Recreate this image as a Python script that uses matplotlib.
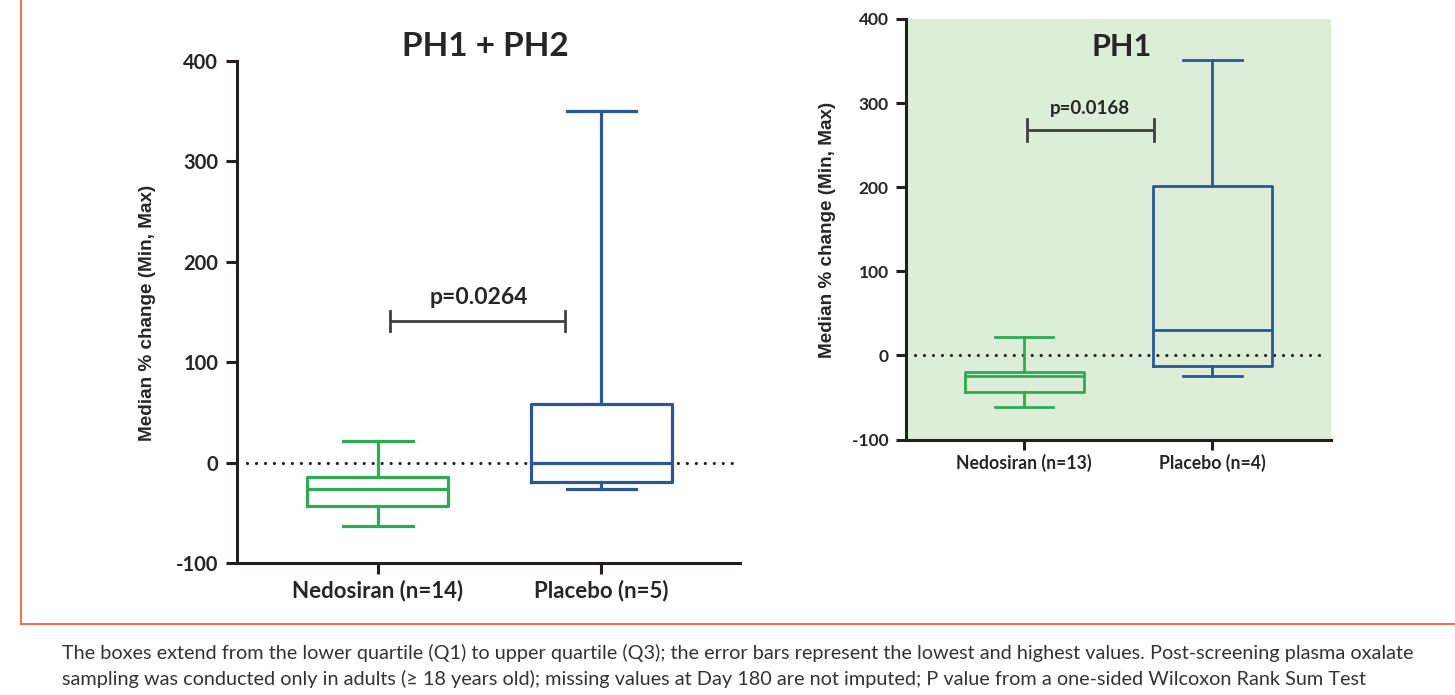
import matplotlib
matplotlib.use("Agg")
import matplotlib.pyplot as plt
from matplotlib.lines import Line2D

# ---------------- data ----------------
categories_all = ["Nedosiran (n=14)", "Placebo (n=5)"]
min_all = [-63, -26]
q1_all = [-43, -19]
med_all = [-26, 0]
q3_all = [-14, 58]
max_all = [22, 350]
p_all = "p=0.0264"
p_all_y = 141

categories_ph1 = ["Nedosiran (n=13)", "Placebo (n=4)"]
min_ph1 = [-61, -25]
q1_ph1 = [-43, -13]
med_ph1 = [-25, 30]
q3_ph1 = [-20, 201]
max_ph1 = [22, 351]
p_ph1 = "p=0.0168"
p_ph1_y = 268

yticks = [-100, 0, 100, 200, 300, 400]
ylabel = "Median % change (Min, Max)"
caption1 = ("The boxes extend from the lower quartile (Q1) to upper quartile (Q3); the error bars "
            "represent the lowest and highest values. Post-screening plasma oxalate")
caption2 = ("sampling was conducted only in adults (\u2265 18 years old); missing values at Day 180 "
            "are not imputed; P value from a one-sided Wilcoxon Rank Sum Test")

GREEN = "#2EAA52"
BLUE = "#2A5796"
DARK = "#231F20"
TEXT = "#262626"
BG = "#DCEDD8"
ORANGE = "#F07048"

fig = plt.figure(figsize=(14.55, 6.95), dpi=100)

def stats(mins, q1s, meds, q3s, maxs):
    return [dict(whislo=a, q1=b, med=c, q3=d, whishi=e, fliers=[])
            for a, b, c, d, e in zip(mins, q1s, meds, q3s, maxs)]

def panel(ax, cats, st, lw, tick_fs, tick_len, xlab_fs, xpad, xlim):
    colors = [GREEN, BLUE]
    for i, (s, c) in enumerate(zip(st, colors)):
        ax.bxp([s], positions=[i + 1], widths=0.63, capwidths=0.31, showfliers=False,
               boxprops=dict(color=c, linewidth=lw),
               medianprops=dict(color=c, linewidth=lw),
               whiskerprops=dict(color=c, linewidth=lw),
               capprops=dict(color=c, linewidth=lw), zorder=3)
    ax.set_xlim(*xlim)
    ax.set_ylim(-100, 400)
    ax.set_yticks(yticks)
    ax.set_yticklabels([str(t) for t in yticks], fontfamily="Lato", fontweight="bold",
                       fontsize=tick_fs, color=TEXT)
    ax.set_xticks([1, 2])
    ax.set_xticklabels(cats, fontfamily="Lato", fontweight="bold", fontsize=xlab_fs, color=TEXT)
    for sp in ["top", "right"]:
        ax.spines[sp].set_visible(False)
    for sp in ["left", "bottom"]:
        ax.spines[sp].set_linewidth(2.2)
        ax.spines[sp].set_color(DARK)
    ax.tick_params(axis="y", direction="out", length=tick_len, width=2.2, color=DARK, pad=5.5)
    ax.tick_params(axis="x", direction="out", length=tick_len, width=2.2, color=DARK, pad=xpad)
    ax.axhline(0, xmin=0.02, xmax=0.99, color=DARK, linewidth=2.3,
               linestyle=(0, (0.01, 2.8)), dash_capstyle="round", zorder=2)

def bracket(ax, x0, x1, y, h, txt, ty, tx, fs):
    ax.plot([x0, x1], [y, y], color="#404040", linewidth=2.0, solid_capstyle="butt")
    ax.plot([x0, x0], [y - h, y + h], color="#404040", linewidth=2.0)
    ax.plot([x1, x1], [y - h, y + h], color="#404040", linewidth=2.0)
    ax.text(tx, ty, txt, ha="center", va="center", fontfamily="Lato", fontweight="bold",
            fontsize=fs, color=TEXT)

# ---------------- left panel ----------------
axL = fig.add_axes([0.1629, 0.1899, 0.3457, 0.7223])
panel(axL, categories_all, stats(min_all, q1_all, med_all, q3_all, max_all),
      lw=2.3, tick_fs=14.5, tick_len=8, xlab_fs=16, xpad=4, xlim=(0.37, 2.62))
bracket(axL, 1.054, 1.835, p_all_y, 10, p_all, 164, 1.45, 16.5)
axL.text(1.48, 414, "PH1 + PH2", ha="center", va="center", fontfamily="Lato",
         fontweight="bold", fontsize=24, color=TEXT, clip_on=False)

# ---------------- right panel ----------------
axR = fig.add_axes([0.6227, 0.3676, 0.2921, 0.6051])
axR.set_facecolor(BG)
panel(axR, categories_ph1, stats(min_ph1, q1_ph1, med_ph1, q3_ph1, max_ph1),
      lw=2.0, tick_fs=12.5, tick_len=7, xlab_fs=12.7, xpad=3, xlim=(0.372, 2.63))
bracket(axR, 1.016, 1.69, p_ph1_y, 13, p_ph1, 293, 1.35, 13.5)
axR.text(1.52, 367, "PH1", ha="center", va="center", fontfamily="Lato",
         fontweight="bold", fontsize=22, color=TEXT)

# y labels
fig.text(147 / 1455, 1 - 313 / 695, ylabel, rotation=90, ha="center", va="center",
         fontfamily="Liberation Sans", fontweight="bold", fontsize=13.6, color=TEXT)
fig.text(828 / 1455, 1 - 230 / 695, ylabel, rotation=90, ha="center", va="center",
         fontfamily="Liberation Sans", fontweight="bold", fontsize=13.6, color=TEXT)

# orange frame (left and bottom edges)
fx = 21 / 1455
fy = 1 - 624 / 695
fig.add_artist(Line2D([fx, fx], [1.0, fy], transform=fig.transFigure, color=ORANGE, linewidth=1.4))
fig.add_artist(Line2D([fx, 1.0], [fy, fy], transform=fig.transFigure, color=ORANGE, linewidth=1.4))

# caption
fig.text(62 / 1455, 1 - 653 / 695, caption1, ha="left", va="center", fontfamily="Lato",
         fontsize=14.3, color="#333333")
fig.text(62 / 1455, 1 - 679 / 695, caption2, ha="left", va="center", fontfamily="Lato",
         fontsize=14.3, color="#333333")

fig.savefig("out.png", dpi=100)
